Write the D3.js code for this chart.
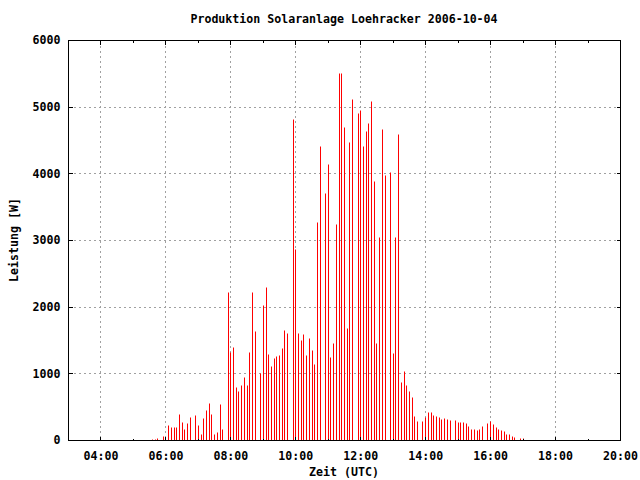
<!DOCTYPE html>
<html>
<head>
<meta charset="utf-8">
<script src="https://cdn.jsdelivr.net/npm/d3@7"></script>
<style>
  html, body { margin: 0; padding: 0; background: #fff; }
  svg { display: block; }
  text { font-family: "DejaVu Sans Mono", "Liberation Mono", monospace; font-weight: bold; font-size: 11.6px; fill: #000; }
</style>
</head>
<body>
<svg id="chart" width="640" height="480"></svg>
<script>
// ---- data (5-minute samples, W) ----
const times = [
  "05:35","05:40","05:45","05:55","06:05","06:10","06:15","06:20","06:25","06:30","06:35","06:40","06:45",
  "06:55","07:00","07:05","07:10","07:15","07:20","07:25","07:30","07:35","07:40","07:45",
  "07:55","08:00","08:05","08:10","08:15","08:20","08:25","08:30","08:35","08:40","08:45",
  "08:55","09:00","09:05","09:10","09:15","09:20","09:25","09:30","09:35","09:40","09:45",
  "09:55","10:00","10:05","10:10","10:15","10:20","10:25","10:30","10:35","10:40","10:45",
  "10:55","11:00","11:05","11:10","11:15","11:20","11:25","11:30","11:35","11:40","11:45",
  "11:55","12:00","12:05","12:10","12:15","12:20","12:25","12:30","12:35","12:40","12:45",
  "12:55","13:00","13:05","13:10","13:15","13:20","13:25","13:30","13:35","13:40","13:45",
  "13:55","14:00","14:05","14:10","14:15","14:20","14:25","14:30","14:35","14:40","14:45",
  "14:55","15:00","15:05","15:10","15:15","15:20","15:25","15:30","15:35","15:40","15:45",
  "15:55","16:00","16:05","16:10","16:15","16:20","16:25","16:30","16:35","16:40","16:45",
  "16:55","17:00"
];
const power = [
  15,15,30,60,225,195,195,195,390,270,165,255,345,
  375,225,90,330,450,555,390,90,120,540,165,
  2220,1320,1395,795,735,825,945,825,1320,2220,1635,
  1005,2025,2295,1290,1110,1230,1260,1275,1380,1650,1605,
  4815,2865,1605,1500,1590,1275,1530,1350,1140,3270,4410,
  3705,4140,1245,1455,3240,5505,5505,4695,1680,4470,5115,
  4905,4950,4410,4635,4755,5085,3885,1455,3045,4665,3975,
  4020,1305,3045,4590,870,1035,825,735,645,360,285,
  285,345,420,420,375,360,345,315,330,315,300,
  300,270,270,270,255,210,165,165,150,165,210,
  255,285,240,195,165,150,135,90,90,60,45,
  30,30
];
const yTicks = [0,1000,2000,3000,4000,5000,6000];
const xDomain = ["03:00","20:00"];
const titleText = "Produktion Solaranlage Loehracker 2006-10-04";
const xLabel = "Zeit (UTC)";
const yLabel = "Leistung [W]";

// ---- layout ----
const L = 68, R = 620, T = 40, B = 440;
const svg = d3.select("#chart");
const parse = s => { const [h, m] = s.split(":").map(Number); return new Date(Date.UTC(2006, 9, 4, h, m)); };

const x = d3.scaleUtc().domain(xDomain.map(parse)).range([L, R]);
const y = d3.scaleLinear().domain([0, 6000]).range([B, T]);
const fmt = d3.utcFormat("%H:%M");
const major = d3.utcHour.every(2).range(parse("04:00"), d3.utcMinute.offset(parse("20:00"), 1));
const minor = d3.utcHour.every(1).range(parse("03:00"), d3.utcMinute.offset(parse("20:00"), 1));

// grid
const grid = svg.append("g").attr("stroke", "#a0a0a0").attr("stroke-width", 1).attr("stroke-dasharray", "2,3");
grid.selectAll("line.gx").data(major.filter(d => +d !== +parse("20:00"))).join("line")
  .attr("x1", d => Math.round(x(d)) + 0.5).attr("x2", d => Math.round(x(d)) + 0.5)
  .attr("y1", T + 1).attr("y2", B);
grid.selectAll("line.gy").data(yTicks.filter(v => v > 0 && v < 6000)).join("line")
  .attr("y1", d => Math.round(y(d)) + 0.5).attr("y2", d => Math.round(y(d)) + 0.5)
  .attr("x1", L + 1).attr("x2", R);

// impulses
svg.append("g").selectAll("line").data(times.map((t, i) => ({ t: parse(t), v: power[i] }))).join("line")
  .attr("x1", d => Math.floor(x(d.t) + 0.5) + 0.5)
  .attr("x2", d => Math.floor(x(d.t) + 0.5) + 0.5)
  .attr("y1", y(0) + 0.5)
  .attr("y2", d => Math.round(y(d.v)) + 0.5)
  .attr("stroke", "#ff0000").attr("stroke-width", 1);

// axes
function styleAxis(g) {
  g.select(".domain").remove();
  g.selectAll(".tick line").attr("stroke", "#000").attr("shape-rendering", "crispEdges");
  g.selectAll("text").attr("font-family", null).attr("font-size", null).attr("fill", "#000");
}
svg.append("g").attr("transform", `translate(0,${B + 0.5})`)
  .call(d3.axisBottom(x).tickValues(minor).tickSizeInner(-2).tickSizeOuter(0).tickFormat(""))
  .call(styleAxis);
svg.append("g").attr("transform", `translate(0,${B + 0.5})`)
  .call(d3.axisBottom(x).tickValues(major).tickSizeInner(-4).tickSizeOuter(0).tickPadding(11).tickFormat(fmt))
  .call(styleAxis);
svg.append("g").attr("transform", `translate(0,${T + 0.5})`)
  .call(d3.axisTop(x).tickValues(minor).tickSizeInner(-2).tickSizeOuter(0).tickFormat(""))
  .call(styleAxis);
svg.append("g").attr("transform", `translate(0,${T + 0.5})`)
  .call(d3.axisTop(x).tickValues(major).tickSizeInner(-4).tickSizeOuter(0).tickFormat(""))
  .call(styleAxis);
svg.append("g").attr("transform", `translate(${L + 0.5},0)`)
  .call(d3.axisLeft(y).tickValues(yTicks).tickSizeInner(-4).tickSizeOuter(0).tickPadding(8).tickFormat(d3.format("d")))
  .call(styleAxis);
svg.append("g").attr("transform", `translate(${R + 0.5},0)`)
  .call(d3.axisRight(y).tickValues(yTicks).tickSizeInner(-4).tickSizeOuter(0).tickFormat(""))
  .call(styleAxis);

// border
svg.append("rect").attr("x", L + 0.5).attr("y", T + 0.5).attr("width", R - L).attr("height", B - T)
  .attr("fill", "none").attr("stroke", "#000").attr("stroke-width", 1);

// labels
svg.append("text").attr("x", (L + R) / 2).attr("y", 23).attr("text-anchor", "middle").text(titleText);
svg.append("text").attr("x", (L + R) / 2).attr("y", 476).attr("text-anchor", "middle").text(xLabel);
svg.append("text").attr("transform", "translate(18,240) rotate(-90)").attr("text-anchor", "middle").text(yLabel);
</script>
</body>
</html>
